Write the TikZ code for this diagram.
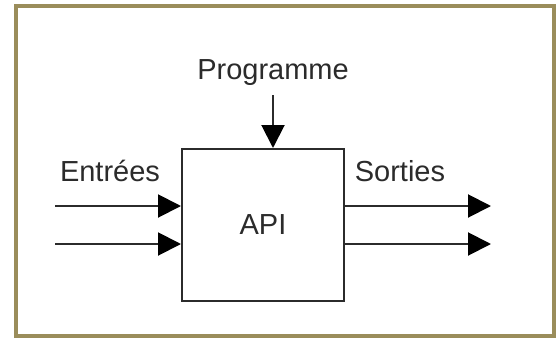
\documentclass[tikz,border=0pt]{standalone}
\usepackage{fontspec}
\setmainfont{Liberation Sans}
\usetikzlibrary{arrows.meta}
\definecolor{olive}{HTML}{9A8D5B}
\definecolor{ink}{HTML}{2B2B2B}
\begin{document}
\begin{tikzpicture}[x=1pt,y=-1pt,
  lbl/.style={text=ink,font=\fontsize{29}{34}\selectfont,inner sep=0pt},
  conn/.style={draw=ink,line width=2pt,-{Triangle[length=23pt,width=23pt,color=black]}}]
\useasboundingbox (0,0) rectangle (558,338);
\fill[white] (0,0) rectangle (558,338);
\draw[olive,line width=4pt] (16,5.5) rectangle (554,335.5);
\node[draw=ink,line width=2pt,minimum width=162pt,minimum height=152pt,inner sep=0pt] (api) at (263,225) {};
\node[lbl] (apil) at (263,225) {API};
\node[lbl] (prog) at (273,73) {Programme};
\node[lbl] (ent) at (110,171) {Entrées};
\node[lbl] (sort) at (400,171) {Sorties};
\coordinate (ptop) at (273,95);
\coordinate (i1) at (55,206);
\coordinate (i2) at (55,244);
\coordinate (o1) at (491,206);
\coordinate (o2) at (491,244);
\draw[conn] (ptop) -- (ptop |- api.north);
\draw[conn] (i1) -- (i1 -| api.west);
\draw[conn] (i2) -- (i2 -| api.west);
\draw[conn] (i1 -| api.east) -- (o1);
\draw[conn] (i2 -| api.east) -- (o2);
\end{tikzpicture}
\end{document}
